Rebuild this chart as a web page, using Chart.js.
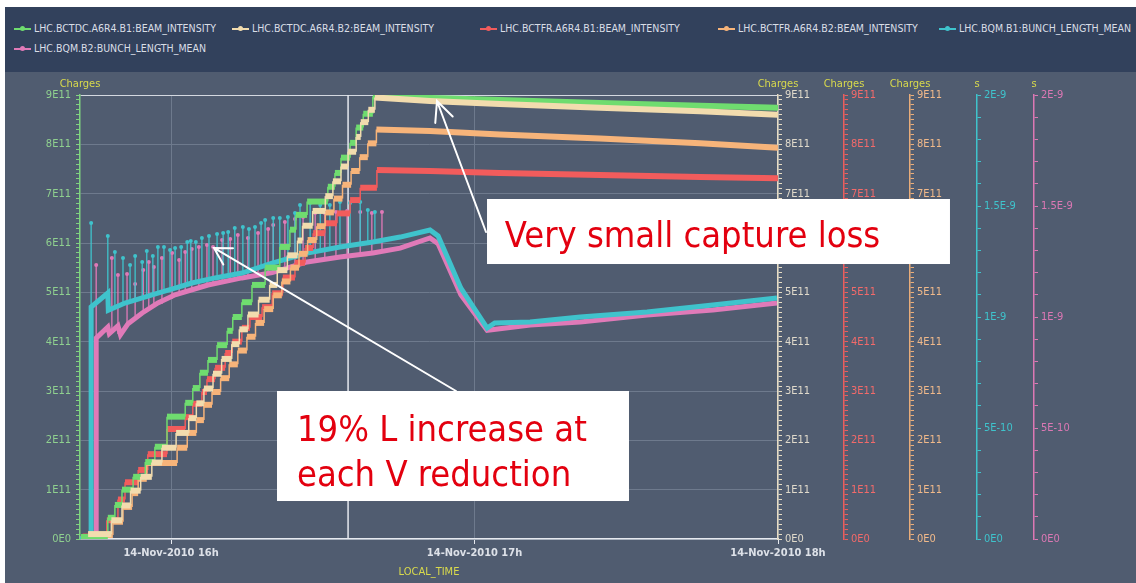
<!DOCTYPE html>
<html lang="en">
<head>
<meta charset="UTF-8">
<title>LHC beam intensity and bunch length, 14-Nov-2010</title>
<script src="https://cdn.jsdelivr.net/npm/chart.js"></script>
<style>
    body { margin: 0; background: #ffffff; width: 1136px; height: 583px; overflow: hidden; position: relative; }
    #frame { position: absolute; left: 5px; top: 7px; width: 1131px; height: 576px; background: #505c70; }
    #band { position: absolute; left: 5px; top: 7px; width: 1131px; height: 65px; background: #32415c; }
    #legend { position: absolute; left: 0; top: 0; font: 10.5px "DejaVu Sans Condensed", sans-serif; color: #d9dee6; }
    #legend .item { position: absolute; white-space: nowrap; line-height: 14px; }
    #legend .mark { display: inline-block; position: relative; width: 17px; height: 2px; vertical-align: middle; margin-right: 3px; }
    #legend .mark::after { content: ''; position: absolute; left: 6px; top: -2px; width: 5px; height: 5px; border-radius: 50%; background: inherit; }
    #chart { position: absolute; left: 0; top: 0; }
</style>
</head>
<body>
<div id="frame"></div>
<div id="band"></div>
<div id="legend"></div>
<canvas id="chart" width="1136" height="583"></canvas>
<script>
    // time is in minutes after 15:00 on 14-Nov-2010, intensities in 1E11 charges, bunch lengths in ns
    const seriesNames = [
        'LHC.BCTDC.A6R4.B1:BEAM_INTENSITY',
        'LHC.BCTDC.A6R4.B2:BEAM_INTENSITY',
        'LHC.BCTFR.A6R4.B1:BEAM_INTENSITY',
        'LHC.BCTFR.A6R4.B2:BEAM_INTENSITY',
        'LHC.BQM.B1:BUNCH_LENGTH_MEAN',
        'LHC.BQM.B2:BUNCH_LENGTH_MEAN'
    ];
    const seriesColors = ['#6fdc6f', '#f2dcae', '#f25c5c', '#f7b47a', '#3fc3cc', '#e07ab8'];

    const timeTicks = [60, 120, 180];
    const timeTickLabels = ['14-Nov-2010 16h', '14-Nov-2010 17h', '14-Nov-2010 18h'];
    const chargeLabels = ['0E0', '1E11', '2E11', '3E11', '4E11', '5E11', '6E11', '7E11', '8E11', '9E11'];
    const lengthLabels = ['0E0', '5E-10', '1E-9', '1.5E-9', '2E-9'];
    const cursorTime = 95;

    // [start time, level] of each injection step, then the slow decay after the fill
    const b1dcSteps = [[42.2,0.04],[47.5,0.43],[48.9,0.69],[50.3,1.0],[52.5,1.26],[54.9,1.56],[56.8,1.87],[59.2,2.48],[62.8,2.76],[64.3,3.06],[65.7,3.37],[67.3,3.63],[69.1,3.93],[71.1,4.22],[72.2,4.5],[74.0,4.8],[76.0,5.15],[78.6,5.5],[81.5,5.92],[83.5,6.27],[84.7,6.57],[86.9,6.84],[91.0,7.14],[92.4,7.42],[93.6,7.73],[95.4,8.03],[96.6,8.34],[98.0,8.62],[99.9,8.97]];
    const b1dcTail = [[111.2,8.94],[125,8.9],[144.8,8.84],[164.6,8.78],[180,8.74]];

    const b2dcSteps = [[43.6,0.1],[48.2,0.38],[50.3,0.68],[52.0,0.98],[54.0,1.26],[56.2,1.55],[58.2,1.85],[61.0,2.15],[63.5,2.45],[65.0,2.75],[66.5,3.05],[68.3,3.35],[70.0,3.65],[72.0,3.95],[73.5,4.25],[75.2,4.55],[77.3,4.85],[79.5,5.15],[81.0,5.45],[83.0,5.75],[85.0,6.05],[86.0,6.35],[88.0,6.65],[90.5,6.95],[92.0,7.25],[93.6,7.55],[95.0,7.85],[96.6,8.15],[97.5,8.45],[99.0,8.7],[100.3,8.95]];
    const b2dcTail = [[111.2,8.88],[125,8.82],[144.8,8.74],[164.6,8.67],[180,8.6]];

    const b1frSteps = [[42.5,0.05],[47.3,0.38],[49.5,0.8],[50.9,1.15],[53.5,1.4],[55.4,1.72],[59.2,2.23],[62.8,2.47],[64.3,2.74],[66.1,2.98],[67.1,3.24],[68.7,3.47],[70.7,3.77],[72.1,4.0],[74.0,4.28],[75.6,4.5],[78.0,4.7],[80.0,4.98],[82.1,5.3],[84.5,5.6],[86.5,5.9],[88.1,6.2],[90.4,6.4],[92.8,6.6],[95.4,6.87],[97.4,7.12],[100.7,7.48]];
    const b1frTail = [[111.2,7.46],[125,7.42],[144.8,7.38],[164.6,7.34],[180,7.31]];

    const b2frSteps = [[43.6,0.08],[48.5,0.35],[50.5,0.65],[52.3,0.93],[53.5,1.22],[55.2,1.54],[61.2,1.85],[63.2,2.15],[65.0,2.41],[66.5,2.72],[68.1,2.98],[69.8,3.26],[71.5,3.54],[73.2,3.82],[75.0,4.1],[76.7,4.38],[78.4,4.66],[80.2,4.94],[81.9,5.22],[83.6,5.5],[85.3,5.78],[87.0,6.06],[88.8,6.34],[90.5,6.62],[92.2,6.9],[93.9,7.18],[95.6,7.46],[97.3,7.74],[98.9,8.02],[100.6,8.3]];
    const b2frTail = [[111.2,8.27],[125,8.2],[144.8,8.12],[164.6,8.02],[180,7.93]];

    const b1Length = [[42,0],[44.2,0],[44.2,1.045],[47.5,1.108],[47.6,1.03],[50.9,1.063],[54.3,1.086],[57.4,1.108],[60.8,1.13],[64.1,1.153],[68.7,1.176],[74.0,1.198],[80.0,1.243],[86.9,1.288],[93.4,1.315],[99.9,1.338],[105.3,1.36],[111.2,1.392],[112.8,1.365],[117.3,1.13],[122.5,0.95],[124.0,0.973],[131.0,0.977],[140.9,1.0],[154.1,1.023],[167.1,1.054],[179.8,1.086]];
    const b2Length = [[42,0],[45.2,0],[45.2,0.905],[47.5,0.955],[47.8,0.925],[49.5,0.96],[50.0,0.92],[51.5,0.97],[54.3,1.018],[57.4,1.063],[60.8,1.1],[67.3,1.144],[74.0,1.176],[80.0,1.2],[86.9,1.248],[93.4,1.27],[99.9,1.288],[105.3,1.31],[111.2,1.356],[112.8,1.33],[117.3,1.1],[122.5,0.94],[131.0,0.964],[140.9,0.977],[154.1,1.009],[167.1,1.032],[179.8,1.063]];

    // [time, bunch length before, peak reading] at each injection
    const b1Spikes = [[44.2,1.045,1.423],[47.5,1.077,1.365],[48.9,1.05,1.293],[50.5,1.059,1.266],[51.9,1.068,1.234],[52.9,1.072,1.275],[54.3,1.086,1.248],[55.2,1.09,1.297],[56.4,1.099,1.275],[57.4,1.108,1.315],[58.6,1.117,1.315],[59.8,1.122,1.302],[60.8,1.131,1.311],[62.0,1.14,1.315],[63.2,1.144,1.338],[63.9,1.153,1.342],[64.9,1.158,1.338],[66.1,1.162,1.356],[67.5,1.167,1.365],[69.1,1.176,1.374],[70.3,1.18,1.378],[71.3,1.185,1.383],[72.6,1.189,1.401],[74.2,1.198,1.405],[75.4,1.203,1.396],[76.6,1.212,1.405],[77.8,1.221,1.423],[78.6,1.225,1.437],[80.2,1.243,1.446],[81.5,1.252,1.446],[83.1,1.261,1.45],[84.5,1.27,1.468],[85.5,1.275,1.505],[87.5,1.284,1.514],[89.5,1.293,1.505],[91.4,1.302,1.505],[93.4,1.315,1.518],[95.4,1.32,1.514],[97.4,1.329,1.518],[98.9,1.333,1.482],[100.3,1.338,1.473]];
    const b2Spikes = [[45.2,0.905,1.234],[48.3,0.941,1.266],[49.5,0.923,1.189],[51.3,0.964,1.194],[52.9,0.991,1.149],[54.5,1.018,1.212],[55.6,1.032,1.248],[56.6,1.045,1.225],[58.2,1.059,1.266],[60.2,1.081,1.288],[61.6,1.095,1.257],[62.8,1.108,1.293],[64.1,1.117,1.306],[65.5,1.126,1.315],[67.1,1.135,1.324],[68.3,1.144,1.315],[70.1,1.153,1.347],[71.7,1.162,1.351],[73.2,1.167,1.369],[75.2,1.176,1.356],[77.2,1.18,1.378],[79.2,1.189,1.396],[80.2,1.198,1.414],[82.5,1.212,1.428],[84.5,1.225,1.441],[86.1,1.243,1.45],[88.5,1.252,1.468],[90.4,1.257,1.468],[92.6,1.266,1.473],[94.8,1.27,1.477],[97.4,1.279,1.473],[99.7,1.284,1.468],[101.7,1.288,1.473]];

    // annotations, anchored in (time, charges) coordinates
    const noteBoxes = [
        { from: [122.47, 6.892], to: [214.0, 5.574], at: [126.0, 5.92], lines: ['Very small capture loss'] },
        { from: [80.95, 3.0], to: [150.54, 0.77], at: [84.9, 1.986], lines: ['19% L increase at', 'each V reduction'] }
    ];
    const noteArrows = [
        { from: [122.27, 6.223], to: [112.58, 8.878], spread: 25, head: 22 },
        { from: [116.34, 3.0], to: [68.49, 5.899], spread: 30, head: 19 }
    ];

    const legendSlots = [[14, 28], [232, 28], [480, 28], [718, 28], [939, 28], [14, 48]];

    const legend = document.getElementById('legend');
    seriesNames.forEach((name, i) => {
        const item = document.createElement('div');
        item.className = 'item';
        item.style.left = legendSlots[i][0] + 'px';
        item.style.top = (legendSlots[i][1] - 7) + 'px';
        const mark = document.createElement('span');
        mark.className = 'mark';
        mark.style.background = seriesColors[i];
        item.appendChild(mark);
        item.appendChild(document.createTextNode(name));
        legend.appendChild(item);
    });

    function stairs(steps, tail) {
        const pts = [];
        steps.forEach(([t, v], i) => {
            if (i > 0) pts.push({ x: t, y: steps[i - 1][1] });
            pts.push({ x: t, y: v });
        });
        tail.forEach(([t, v]) => pts.push({ x: t, y: v }));
        return pts;
    }

    function stems(spikes) {
        const pts = [];
        spikes.forEach(([t, base, top]) => {
            pts.push({ x: t, y: base }, { x: t, y: top }, { x: t, y: null });
        });
        return pts;
    }

    const toPoints = rows => rows.map(([t, v]) => ({ x: t, y: v }));
    const isWhole = v => Math.abs(v - Math.round(v)) < 1e-6;
    const tickFont = { family: '"DejaVu Sans Condensed", sans-serif', size: 11 };
    const timeFont = { family: '"DejaVu Sans Condensed", sans-serif', size: 11, weight: 'bold' };

    const chargeTicks = [];
    for (let i = 0; i <= 90; i++) chargeTicks.push(i / 10);
    const lengthTicks = [];
    for (let i = 0; i <= 20; i++) lengthTicks.push(i / 10);

    function chargeAxis(position, color, labelColor, width, onChart) {
        return {
            type: 'linear', position, min: 0, max: 9,
            afterBuildTicks: s => { s.ticks = chargeTicks.map(v => ({ value: v })); },
            afterFit: s => { s.width = width; },
            ticks: {
                autoSkip: false, color: labelColor, font: tickFont, padding: position === 'left' ? 5 : 3,
                callback: v => isWhole(v) ? chargeLabels[Math.round(v)] : ''
            },
            grid: {
                drawOnChartArea: onChart, tickLength: 4, tickColor: color, tickWidth: 1,
                color: c => !isWhole(c.tick.value) ? 'rgba(0,0,0,0)' : (c.tick.value === 9 ? '#d4d8e0' : '#6e7a8d')
            },
            border: { color, width: 1.5 }
        };
    }

    function lengthAxis(color, width) {
        return {
            type: 'linear', position: 'right', min: 0, max: 2,
            afterBuildTicks: s => { s.ticks = lengthTicks.map(v => ({ value: v })); },
            afterFit: s => { s.width = width; },
            ticks: {
                autoSkip: false, color, font: tickFont, padding: 3,
                callback: v => isWhole(v * 2) ? lengthLabels[Math.round(v * 2)] : ''
            },
            grid: { drawOnChartArea: false, tickLength: 4, tickColor: color, tickWidth: 1 },
            border: { color, width: 1.5 }
        };
    }

    const stepWidth = c => c.p0.parsed.x === c.p1.parsed.x ? 1.5 : 6;

    function intensitySet(i, data, axis, order) {
        return {
            label: seriesNames[i], data, yAxisID: axis, order,
            borderColor: seriesColors[i], borderWidth: 6, pointRadius: 0,
            segment: { borderWidth: stepWidth }
        };
    }

    const axisCaptions = [['y', 'Charges'], ['yDC2', 'Charges'], ['yFR1', 'Charges'], ['yFR2', 'Charges'], ['yB1', 's'], ['yB2', 's']];

    const captionPlugin = {
        id: 'axisCaptions',
        afterDraw(chart) {
            const ctx = chart.ctx;
            ctx.save();
            ctx.font = '11px "DejaVu Sans Condensed", sans-serif';
            ctx.fillStyle = '#d9da4c';
            ctx.textAlign = 'center';
            ctx.textBaseline = 'middle';
            axisCaptions.forEach(([id, text]) => {
                const s = chart.scales[id];
                const x = s.position === 'left' ? s.right : s.left;
                ctx.fillText(text, x, chart.chartArea.top - 11);
            });
            ctx.restore();
        }
    };

    const notePlugin = {
        id: 'notes',
        afterDraw(chart) {
            const ctx = chart.ctx;
            const sx = chart.scales.x, sy = chart.scales.y;
            const px = t => sx.getPixelForValue(t);
            const py = v => sy.getPixelForValue(v);
            ctx.save();
            ctx.strokeStyle = '#ffffff';
            ctx.lineWidth = 2;
            ctx.lineCap = 'round';
            noteArrows.forEach(a => {
                const x0 = px(a.from[0]), y0 = py(a.from[1]);
                const x1 = px(a.to[0]), y1 = py(a.to[1]);
                const ang = Math.atan2(y0 - y1, x0 - x1);
                const sp = a.spread * Math.PI / 180;
                ctx.beginPath();
                ctx.moveTo(x0, y0);
                ctx.lineTo(x1, y1);
                ctx.moveTo(x1 + a.head * Math.cos(ang - sp), y1 + a.head * Math.sin(ang - sp));
                ctx.lineTo(x1, y1);
                ctx.lineTo(x1 + a.head * Math.cos(ang + sp), y1 + a.head * Math.sin(ang + sp));
                ctx.stroke();
            });
            noteBoxes.forEach(b => {
                const x0 = px(b.from[0]), y0 = py(b.from[1]);
                const x1 = px(b.to[0]), y1 = py(b.to[1]);
                ctx.fillStyle = '#ffffff';
                ctx.fillRect(x0, y0, x1 - x0, y1 - y0);
                ctx.fillStyle = '#e3000f';
                ctx.font = '36px "DejaVu Sans Condensed", sans-serif';
                ctx.textAlign = 'left';
                ctx.textBaseline = 'alphabetic';
                b.lines.forEach((line, k) => ctx.fillText(line, px(b.at[0]), py(b.at[1]) + k * 45));
            });
            ctx.restore();
        }
    };

    new Chart(document.getElementById('chart'), {
        type: 'line',
        data: {
            datasets: [
                intensitySet(1, stairs(b2dcSteps, b2dcTail), 'yDC2', 1),
                intensitySet(0, stairs(b1dcSteps, b1dcTail), 'y', 2),
                intensitySet(3, stairs(b2frSteps, b2frTail), 'yFR2', 3),
                intensitySet(2, stairs(b1frSteps, b1frTail), 'yFR1', 4),
                {
                    label: seriesNames[4], data: toPoints(b1Length), yAxisID: 'yB1', order: 5,
                    borderColor: seriesColors[4], borderWidth: 5, pointRadius: 0
                },
                {
                    label: seriesNames[5], data: toPoints(b2Length), yAxisID: 'yB2', order: 6,
                    borderColor: seriesColors[5], borderWidth: 5, pointRadius: 0
                },
                {
                    label: 'B1 injection peaks', data: stems(b1Spikes), yAxisID: 'yB1', order: 7,
                    borderColor: seriesColors[4], borderWidth: 1.3, spanGaps: false,
                    pointRadius: c => c.index % 3 === 1 ? 2 : 0,
                    pointBackgroundColor: seriesColors[4], pointBorderWidth: 0
                },
                {
                    label: 'B2 injection peaks', data: stems(b2Spikes), yAxisID: 'yB2', order: 8,
                    borderColor: seriesColors[5], borderWidth: 1.3, spanGaps: false,
                    pointRadius: c => c.index % 3 === 1 ? 2 : 0,
                    pointBackgroundColor: seriesColors[5], pointBorderWidth: 0
                },
                {
                    label: 'cursor', data: [{ x: cursorTime, y: 0 }, { x: cursorTime, y: 9 }], yAxisID: 'y', order: 20,
                    borderColor: '#e6e9ef', borderWidth: 1.5, pointRadius: 0
                }
            ]
        },
        options: {
            responsive: false,
            animation: false,
            devicePixelRatio: 1,
            layout: { padding: { left: 5, right: 42, top: 95, bottom: 0 } },
            plugins: { legend: { display: false }, tooltip: { enabled: false } },
            scales: {
                x: {
                    type: 'linear', position: 'bottom', min: 42, max: 180,
                    afterBuildTicks: s => { s.ticks = timeTicks.map(v => ({ value: v })); },
                    afterFit: s => { s.height = 44; },
                    ticks: {
                        color: '#dde1e8', font: timeFont, padding: 3, maxRotation: 0,
                        callback: v => timeTickLabels[timeTicks.indexOf(v)]
                    },
                    grid: { color: '#6e7a8d', tickColor: '#e6e9ef', tickLength: 5 },
                    border: { color: '#e6e9ef', width: 1.5 },
                    title: { display: true, text: 'LOCAL_TIME', color: '#d9da4c', font: tickFont, padding: { top: 2, bottom: 4 } }
                },
                y: chargeAxis('left', '#7fd27f', '#8fd08f', 75, true),
                yDC2: chargeAxis('right', '#e6dcc4', '#e0dacb', 66, false),
                yFR1: chargeAxis('right', '#e85e5e', '#f26a6a', 66, false),
                yFR2: chargeAxis('right', '#e9ad7a', '#f0b98a', 67, false),
                yB1: lengthAxis('#3fc3cc', 57),
                yB2: lengthAxis('#dc78b4', 60)
            }
        },
        plugins: [captionPlugin, notePlugin]
    });
</script>
</body>
</html>
